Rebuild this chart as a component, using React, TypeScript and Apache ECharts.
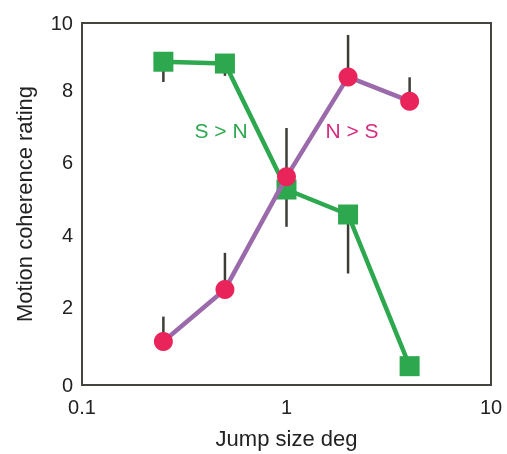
import React, { useEffect, useRef } from "react";
import * as echarts from "echarts";

const jumpSizes = [0.25, 0.5, 1, 2, 4];
const snRatings = [8.93, 8.88, 5.4, 4.71, 0.52];
const snErrLow = [8.37, 8.54, 4.37, 3.08, 0.52];
const nsRatings = [1.2, 2.64, 5.75, 8.51, 7.84];
const nsErrHigh = [1.89, 3.65, 7.1, 9.67, 8.5];
const xTicks = [0.1, 1, 10];
const yTicks = [0, 2, 4, 6, 8, 10];

const GREEN = "#2ea84f";
const PURPLE = "#9b6aab";
const PINK = "#e9245a";
const FRAME = "#454540";
const FONT = "'Liberation Sans', Arial, Helvetica, sans-serif";

export default function App() {
  const ref = useRef<HTMLDivElement>(null);
  useEffect(() => {
    if (!ref.current) return;
    const chart = echarts.init(ref.current, null, { renderer: "svg" });
    const errData: number[][] = [];
    jumpSizes.forEach((x, i) => {
      errData.push([x, snErrLow[i], snRatings[i]]);
      errData.push([x, nsRatings[i], nsErrHigh[i]]);
    });
    chart.setOption({
      animation: false,
      textStyle: { fontFamily: FONT },
      grid: {
        left: 82,
        right: 16,
        top: 23,
        bottom: 67,
        show: true,
        borderColor: FRAME,
        borderWidth: 2,
        backgroundColor: "transparent",
      },
      xAxis: {
        type: "log",
        logBase: 10,
        min: 0.1,
        max: 10,
        name: "Jump size deg",
        nameLocation: "middle",
        nameGap: 42,
        nameTextStyle: { fontSize: 22, color: "#222", fontFamily: FONT },
        axisLine: { show: false },
        axisTick: { show: false },
        splitLine: { show: false },
        axisLabel: {
          fontSize: 20,
          color: "#222",
          margin: 12,
          fontFamily: FONT,
          formatter: (v: number) => {
            const t = xTicks.find((k) => Math.abs(k - v) < 1e-9);
            return t !== undefined ? String(t) : "";
          },
        },
      },
      yAxis: {
        type: "value",
        min: 0,
        max: 10,
        interval: 2,
        name: "Motion coherence rating",
        nameLocation: "middle",
        nameGap: 47,
        nameTextStyle: { fontSize: 22, color: "#222", fontFamily: FONT },
        axisLine: { show: false },
        axisTick: { show: false },
        splitLine: { show: false },
        axisLabel: {
          fontSize: 20,
          color: "#222",
          margin: 9,
          fontFamily: FONT,
          formatter: (v: number) => {
            if (!yTicks.includes(v)) return "";
            if (v === 0 || v === 10) return String(v);
            return `{up|${v}}`;
          },
          rich: {
            up: {
              fontSize: 20,
              color: "#222",
              fontFamily: FONT,
              padding: [0, 0, 11, 0],
            },
          },
        },
      },
      series: [
        {
          type: "custom",
          z: 1,
          data: errData,
          renderItem: (params: any, api: any) => {
            const x = api.value(0);
            const p1 = api.coord([x, api.value(1)]);
            const p2 = api.coord([x, api.value(2)]);
            return {
              type: "line",
              shape: { x1: p1[0], y1: p1[1], x2: p2[0], y2: p2[1] },
              style: { stroke: "#3d3d38", lineWidth: 2.5 },
            };
          },
        },
        {
          type: "line",
          z: 2,
          data: jumpSizes.map((x, i) => [x, snRatings[i]]),
          symbol: "rect",
          symbolSize: 20,
          lineStyle: { color: GREEN, width: 4.5 },
          itemStyle: { color: GREEN },
        },
        {
          type: "line",
          z: 3,
          data: jumpSizes.map((x, i) => [x, nsRatings[i]]),
          symbol: "circle",
          symbolSize: 19,
          lineStyle: { color: PURPLE, width: 4.5 },
          itemStyle: { color: PINK },
        },
      ],
      graphic: [
        {
          type: "text",
          x: 221,
          y: 130,
          style: {
            text: "S > N",
            fill: GREEN,
            font: `21px ${FONT}`,
            align: "center",
            verticalAlign: "middle",
          },
        },
        {
          type: "text",
          x: 352,
          y: 130,
          style: {
            text: "N > S",
            fill: "#d62a80",
            font: `21px ${FONT}`,
            align: "center",
            verticalAlign: "middle",
          },
        },
      ],
    });
    return () => chart.dispose();
  }, []);
  return (
    <div
      ref={ref}
      style={{ position: "fixed", left: 0, top: 0, width: 507, height: 454 }}
    />
  );
}
